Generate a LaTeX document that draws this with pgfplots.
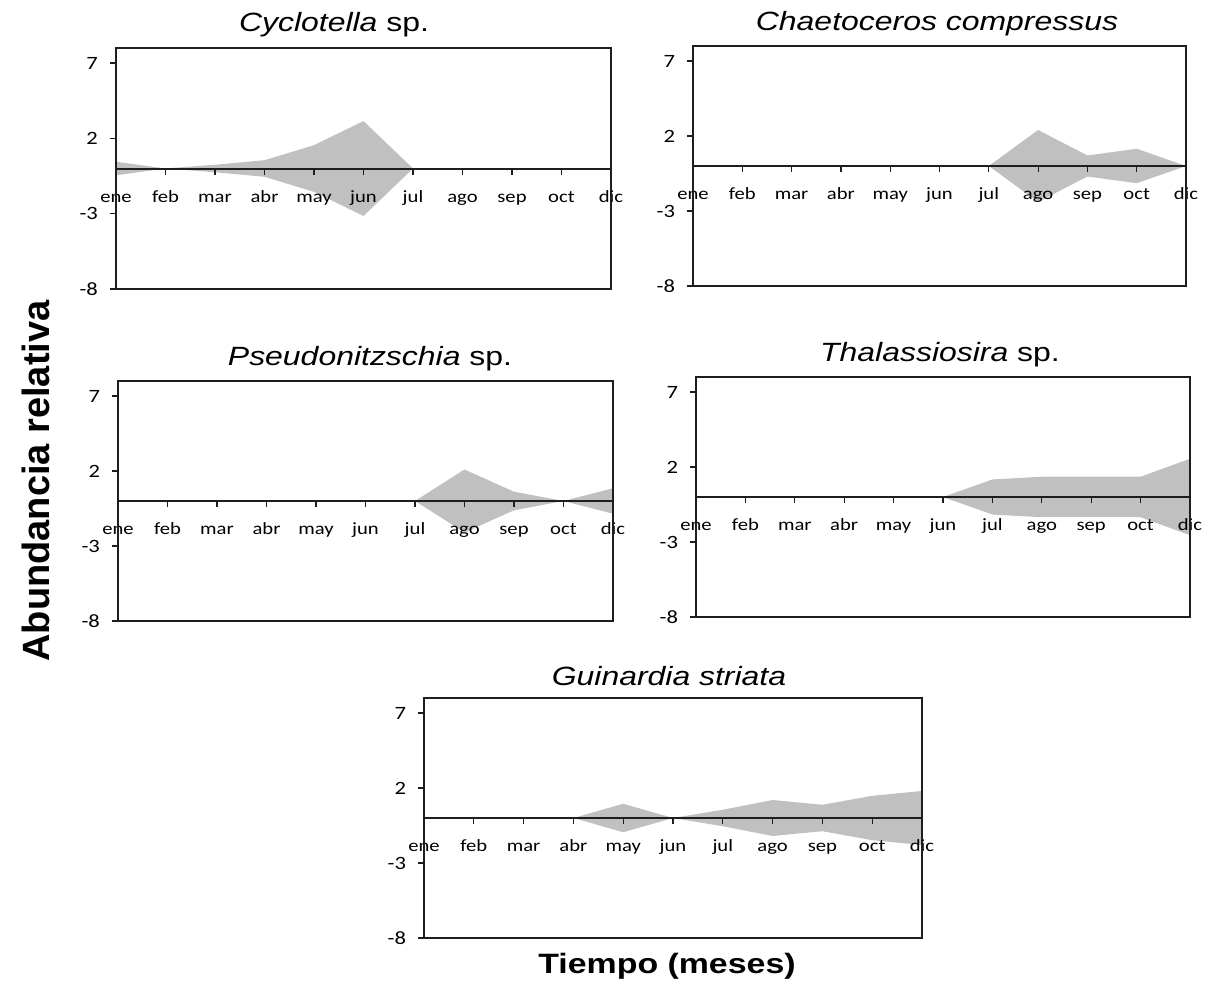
\documentclass[border=0pt]{standalone}
\usepackage{fontspec}
\setmainfont{Liberation Sans}
\newfontfamily\tickfont[FakeStretch=1.2]{Carlito}
\newfontfamily\headfont[FakeStretch=1.21]{Liberation Sans}
\usepackage{pgfplots}
\usepackage{pgfplotstable}
\pgfplotsset{compat=1.18}

\definecolor{kitefill}{RGB}{192,192,192}
\definecolor{framecol}{RGB}{30,30,30}

% half-widths of the kites (relative abundance), months ene..dic
\pgfplotstableread{
m v
0 0.45
1 0
2 0.25
3 0.55
4 1.55
5 3.15
6 0
7 0
8 0
9 0
10 0
}\cyclotella
\pgfplotstableread{
m v
0 0
1 0
2 0
3 0
4 0
5 0
6 0
7 2.4
8 0.7
9 1.15
10 0
}\chaetoceros
\pgfplotstableread{
m v
0 0
1 0
2 0
3 0
4 0
5 0
6 0
7 2.1
8 0.62
9 0
10 0.85
}\pseudonitzschia
\pgfplotstableread{
m v
0 0
1 0
2 0
3 0
4 0
5 0
6 1.17
7 1.35
8 1.35
9 1.35
10 2.55
}\thalassiosira
\pgfplotstableread{
m v
0 0
1 0
2 0
3 0
4 0.95
5 0
6 0.55
7 1.2
8 0.88
9 1.48
10 1.8
}\guinardia

\pgfplotsset{
  kite/.style={
    scale only axis,
    anchor=north west,
    xmin=0, xmax=10, ymin=-8, ymax=8,
    enlargelimits=false,
    axis x line=middle, axis y line=left,
    x axis line style={-, line width=1pt, color=framecol},
    y axis line style={-, line width=0.8pt, color=framecol},
    xtick={0,...,10},
    xticklabels={ene,feb,mar,abr,may,jun,jul,ago,sep,oct,dic},
    ytick={-8,-3,2,7}, yticklabels={-8,-3,2,7},
    hide obscured x ticks=false, hide obscured y ticks=false,
    tick align=outside, major tick length=3pt,
    tick style={line width=0.6pt, color=framecol},
    xticklabel style={font=\tickfont\fontsize{8.6}{9}\selectfont,
      text height=1.6ex, text depth=0.3ex, yshift=-2pt},
    yticklabel style={font=\tickfont\fontsize{9.4}{10}\selectfont, xshift=-2.5pt},
    axis on top,
    after end axis/.code={
      \draw[line width=0.8pt, color=framecol] (rel axis cs:0,0) rectangle (rel axis cs:1,1);
    },
  },
  kitefill/.style={fill=kitefill, draw=none},
}

\newcommand{\kite}[1]{%
  \addplot[kitefill] table[x=m, y=v] {#1} \closedcycle;
  \addplot[kitefill] table[x=m, y expr=-\thisrow{v}] {#1} \closedcycle;
}

\begin{document}
\begin{tikzpicture}
\path[use as bounding box] (0,0) rectangle (605.5pt,-494.5pt);

\begin{axis}[kite, at={(58pt,-24pt)}, width=247.5pt, height=120.5pt]
  \kite{\cyclotella}
\end{axis}
\begin{axis}[kite, at={(346.5pt,-23pt)}, width=246.5pt, height=120pt]
  \kite{\chaetoceros}
\end{axis}
\begin{axis}[kite, at={(59pt,-190.5pt)}, width=247.5pt, height=120pt,
  y axis line style={-, line width=0.6pt, color=gray}]
  \kite{\pseudonitzschia}
\end{axis}
\begin{axis}[kite, at={(348pt,-188.5pt)}, width=247pt, height=120pt]
  \kite{\thalassiosira}
\end{axis}
\begin{axis}[kite, at={(212pt,-349pt)}, width=249pt, height=120pt]
  \kite{\guinardia}
\end{axis}

\begin{scope}[every node/.style={font=\headfont\fontsize{13.2}{15}\selectfont, anchor=base, inner sep=0pt}]
  \node at (167pt,-15.85pt) {\textit{Cyclotella} sp.};
  \node at (468.5pt,-15.5pt) {\textit{Chaetoceros compressus}};
  \node at (185pt,-183pt) {\textit{Pseudonitzschia} sp.};
  \node at (470pt,-181pt) {\textit{Thalassiosira} sp.};
  \node at (334.5pt,-342.5pt) {\textit{Guinardia striata}};
\end{scope}

\node[font=\bfseries\fontsize{19}{22}\selectfont, rotate=90, anchor=base, inner sep=0pt]
  at (24.6pt,-240.5pt) {Abundancia relativa};
\node[font=\headfont\bfseries\fontsize{14}{16}\selectfont, anchor=base, inner sep=0pt]
  at (333.5pt,-486.5pt) {Tiempo (meses)};
\end{tikzpicture}
\end{document}
